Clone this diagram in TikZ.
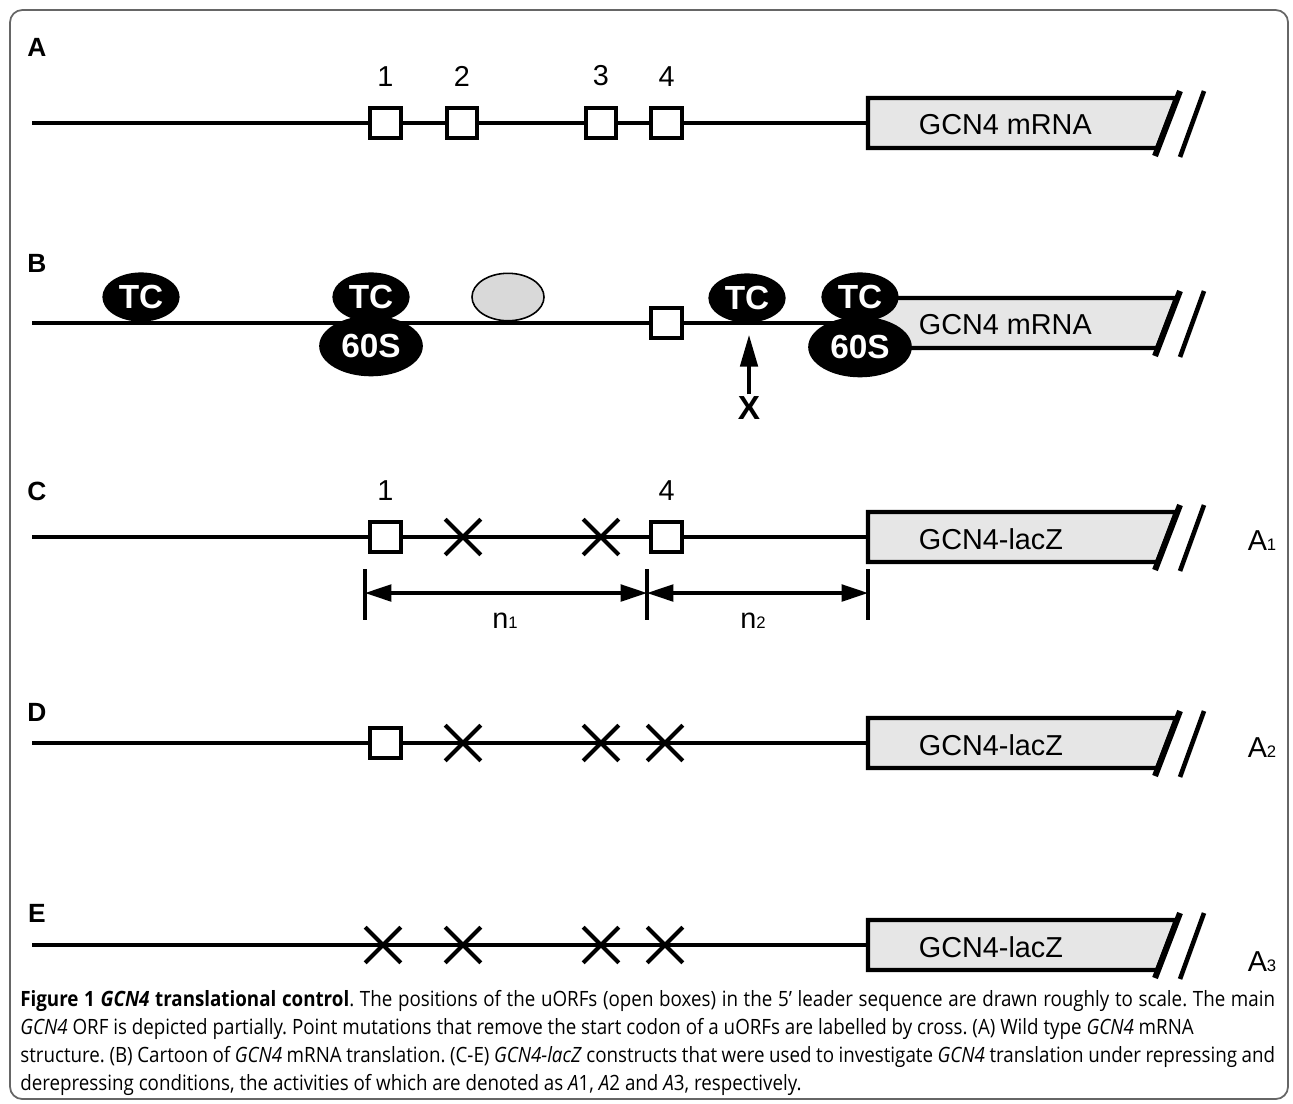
\documentclass[tikz,border=0pt]{standalone}
\usepackage{fontspec}
\setmainfont{Liberation Sans}
\newfontfamily\capfont[FakeStretch=0.89]{Open Sans}
\usetikzlibrary{shapes.geometric,shapes.misc,arrows.meta,positioning}

\definecolor{orffill}{HTML}{E6E6E6}
\definecolor{scanfill}{HTML}{D9D9D9}

\newcommand{\sm}[1]{{\fontsize{9.5pt}{9.5pt}\selectfont #1}}

\tikzset{
  strand/.style={line width=2.2pt},
  uorf/.style={draw, fill=white, line width=2.2pt, minimum size=17.5pt, inner sep=0pt},
  mutx/.style={draw, cross out, line width=2.3pt, minimum size=18pt, inner sep=0pt},
  orfbody/.style={draw, fill=orffill, line width=2.4pt, line join=miter},
  cutmark/.style={line width=2.6pt},
  orflabel/.style={font=\fontsize{16.4pt}{18pt}\selectfont, inner sep=2pt},
  rowlabel/.style={font=\fontsize{15pt}{16pt}\selectfont\bfseries, inner sep=0pt},
  factor/.style={ellipse, fill=black, text=white, inner sep=0pt,
    font=\fontsize{19pt}{19pt}\selectfont\bfseries, minimum width=44pt, minimum height=28pt},
  subunit/.style={factor, minimum width=59pt, minimum height=34.5pt},
  scanner/.style={ellipse, draw, fill=scanfill, line width=0.9pt, minimum width=41pt, minimum height=27pt},
  tick/.style={line width=1.8pt},
  dimarrow/.style={line width=1.8pt, {Triangle[length=15pt,width=9.5pt]}-{Triangle[length=15pt,width=9.5pt]}},
  uparrow/.style={line width=1.8pt, -{Triangle[length=18pt,width=10pt]}},
  caption/.style={text width=25.1cm, align=justify, inner sep=0pt,
    font=\capfont\fontsize{12pt}{15.9pt}\selectfont\frenchspacing},
  frame/.style={draw=gray!80!black, line width=1pt, rounded corners=7pt}
}

% GCN4 coding region: y of strand, name, text
\newcommand{\orfbox}[3]{%
  \coordinate (#2w) at (868,#1);
  \filldraw[orfbody] (868,#1-25) -- (1176,#1-25) -- (1157,#1+25) -- (868,#1+25) -- cycle;
  \draw[cutmark, line width=3.4pt] (1155,#1+33) -- (1180,#1-32);
  \draw[cutmark] (1180,#1+34) -- (1204,#1-32);
  \node[orflabel, anchor=west] (#2t) at (915,#1+2) {#3};
}

\begin{document}
\begin{tikzpicture}[x=0.02cm, y=-0.02cm]
    \useasboundingbox (0,0) rectangle (1293,1103);
    \draw[frame] (10,10) rectangle (1288,1099);

    % A: wild type leader
    \node[rowlabel] (labA) at (37,47) {A};
    \coordinate (a0) at (32,123);
    \orfbox{123}{a}{GCN4 mRNA}
    \draw[strand] (a0) -- (aw);
    \node[uorf] (a1) at (385.5,123) {};
    \node[uorf] (a2) at (462,123) {};
    \node[uorf] (a3) at (601,123) {};
    \node[uorf] (a4) at (666.5,123) {};
    \node[orflabel, above=9pt of a1] (na1) {1};
    \node[orflabel, above=9pt of a2] (na2) {2};
    \node[orflabel, above=9pt of a3] (na3) {3};
    \node[orflabel, above=9pt of a4] (na4) {4};

    % B: cartoon of translation
    \node[rowlabel] (labB) at (37,263) {B};
    \coordinate (b0) at (32,323);
    \orfbox{323}{b}{GCN4 mRNA}
    \draw[strand] (b0) -- (bw);
    \node[uorf] (b4) at (666.5,323) {};
    \node[factor] (tc1) at (141,297) {TC};
    \node[factor] (tc2) at (371,297) {TC};
    \node[subunit] (ls1) at (371,346) {60S};
    \node[scanner] (scan) at (508,297) {};
    \node[factor] (tc3) at (747,298) {TC};
    \node[factor] (tc4) at (860,297) {TC};
    \node[subunit] (ls2) at (860,347) {60S};
    \node[font=\fontsize{19pt}{19pt}\selectfont\bfseries, inner sep=1pt] (blk) at (749,408) {X};
    \coordinate (xtip) at (749,335);
    \draw[uparrow] (blk) -- (xtip);

    % C: uORF1 and uORF4 only
    \node[rowlabel] (labC) at (37,491) {C};
    \coordinate (c0) at (32,537);
    \orfbox{537}{c}{GCN4-lacZ}
    \draw[strand] (c0) -- (cw);
    \node[uorf] (c1) at (385.5,537) {};
    \node[mutx] (c2) at (463,537) {};
    \node[mutx] (c3) at (601,537) {};
    \node[uorf] (c4) at (666.5,537) {};
    \node[orflabel, above=9pt of c1] (nc1) {1};
    \node[orflabel, above=9pt of c4] (nc4) {4};
    \node[orflabel] (act1) at (1262,541) {A\sm{1}};

    \coordinate (tk1) at (365,593);
    \coordinate (tk2) at (647,593);
    \coordinate (tk3) at (868,593);
    \draw[tick] (tk1) ++(0,-24) -- ++(0,51);
    \draw[tick] (tk2) ++(0,-24) -- ++(0,51);
    \draw[tick] (tk3) ++(0,-24) -- ++(0,51);
    \draw[dimarrow] (tk1) -- (tk2);
    \draw[dimarrow] (tk2) -- (tk3);
    \node[orflabel, anchor=base] (len1) at (505,628) {n\sm{1}};
    \node[orflabel, anchor=base] (len2) at (753,628) {n\sm{2}};

    % D: uORF1 only
    \node[rowlabel] (labD) at (37,712) {D};
    \coordinate (d0) at (32,743);
    \orfbox{743}{d}{GCN4-lacZ}
    \draw[strand] (d0) -- (dw);
    \node[uorf] (d1) at (385.5,743) {};
    \node[mutx] (d2) at (463,743) {};
    \node[mutx] (d3) at (601,743) {};
    \node[mutx] (d4) at (665,743) {};
    \node[orflabel] (act2) at (1262,748) {A\sm{2}};

    % E: no uORF
    \node[rowlabel] (labE) at (37,913) {E};
    \coordinate (e0) at (32,945);
    \orfbox{945}{e}{GCN4-lacZ}
    \draw[strand] (e0) -- (ew);
    \node[mutx] (e1) at (383,945) {};
    \node[mutx] (e2) at (463,945) {};
    \node[mutx] (e3) at (601,945) {};
    \node[mutx] (e4) at (665,945) {};
    \node[orflabel] (act3) at (1262,962) {A\sm{3}};

    % caption
    \node[caption, anchor=north west] (cap) at (20,990) {\textbf{Figure 1 \textit{GCN4} translational control}. The positions of the uORFs (open boxes) in the 5’ leader sequence are drawn roughly to scale. The main\linebreak
    \textit{GCN4} ORF is depicted partially. Point mutations that remove the start codon of a uORFs are labelled by cross. (A) Wild type \textit{GCN4} mRNA\\
    structure. (B) Cartoon of \textit{GCN4} mRNA translation. (C-E) \textit{GCN4-lacZ} constructs that were used to investigate \textit{GCN4} translation under repressing and\linebreak
    derepressing conditions, the activities of which are denoted as \textit{A}1, \textit{A}2 and \textit{A}3, respectively.};
\end{tikzpicture}
\end{document}
